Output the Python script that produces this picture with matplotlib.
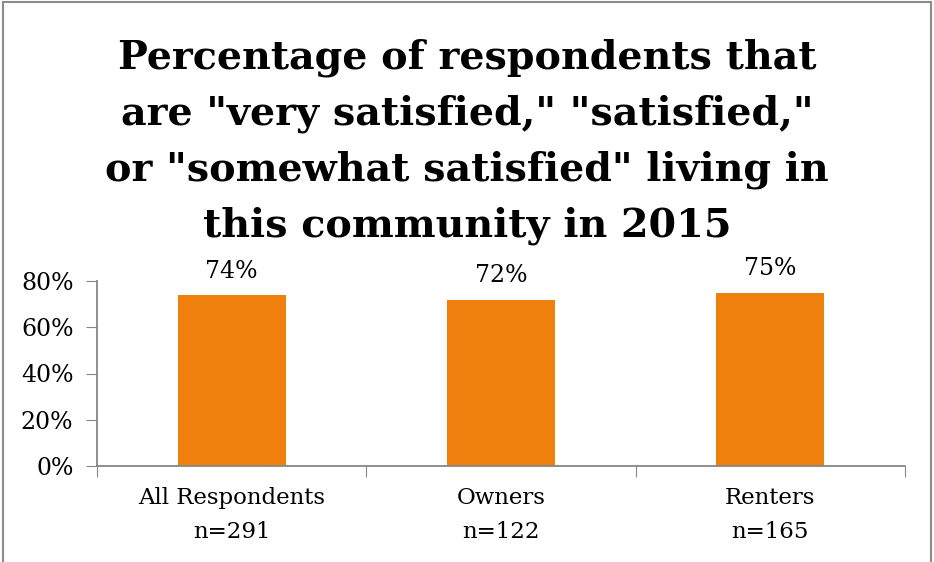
import matplotlib.pyplot as plt
from matplotlib.patches import Rectangle

# Survey results, 2015
groups = ['All Respondents', 'Owners', 'Renters']
sample_sizes = [291, 122, 165]
satisfied_pct = [74, 72, 75]
y_ticks = [0, 20, 40, 60, 80]
title_lines = [
    'Percentage of respondents that',
    'are "very satisfied," "satisfied,"',
    'or "somewhat satisfied" living in',
    'this community in 2015',
]

bar_color = '#F0800E'
axis_color = '#868686'
serif = 'DejaVu Serif'

fig = plt.figure(figsize=(9.34, 5.62), dpi=100)
ax = fig.add_axes([97 / 934, 1 - 466 / 562, (905 - 97) / 934, (466 - 281) / 562])

x = range(len(groups))
ax.bar(x, satisfied_pct, width=0.4, color=bar_color, zorder=2)

# value labels above each bar
for xi, v in zip(x, satisfied_pct):
    ax.annotate(f'{v}%', (xi, v), xytext=(0, 12.5), textcoords='offset points',
                ha='center', va='baseline', fontsize=17, family=serif)

ax.set_xlim(-0.5, len(groups) - 0.5)
ax.set_ylim(0, 80)
ax.set_yticks(y_ticks)
ax.set_yticklabels([f'{t}%' for t in y_ticks], fontsize=17, family=serif)

# category labels sit between the boundary ticks
ax.set_xticks([i - 0.5 for i in range(len(groups) + 1)])
ax.set_xticklabels([])
ax.set_xticks(list(x), minor=True)
ax.set_xticklabels([f'{g}\nn={n}' for g, n in zip(groups, sample_sizes)],
                   minor=True, fontsize=16.5, family=serif, linespacing=1.7)
ax.tick_params(axis='x', which='minor', length=0, pad=15)
ax.tick_params(axis='x', which='major', length=8, color=axis_color, direction='out')
ax.tick_params(axis='y', length=8, color=axis_color, direction='out', pad=9)

for side in ['top', 'right']:
    ax.spines[side].set_visible(False)
for side in ['left', 'bottom']:
    ax.spines[side].set_color(axis_color)
    ax.spines[side].set_linewidth(1.3)

# title, one line at a time
for i, line in enumerate(title_lines):
    fig.text(467 / 934, 1 - (68 + i * 56.3) / 562, line,
             ha='center', va='baseline', fontsize=28.5, fontweight='bold',
             family=serif)

# outer frame
fig.patches.append(Rectangle((3 / 934, -0.01), (931 - 3) / 934, 1 - 2 / 562 + 0.01,
                             transform=fig.transFigure, fill=False,
                             edgecolor='#8C8C8C', linewidth=1.5))

fig.savefig('out.png', dpi=100)
